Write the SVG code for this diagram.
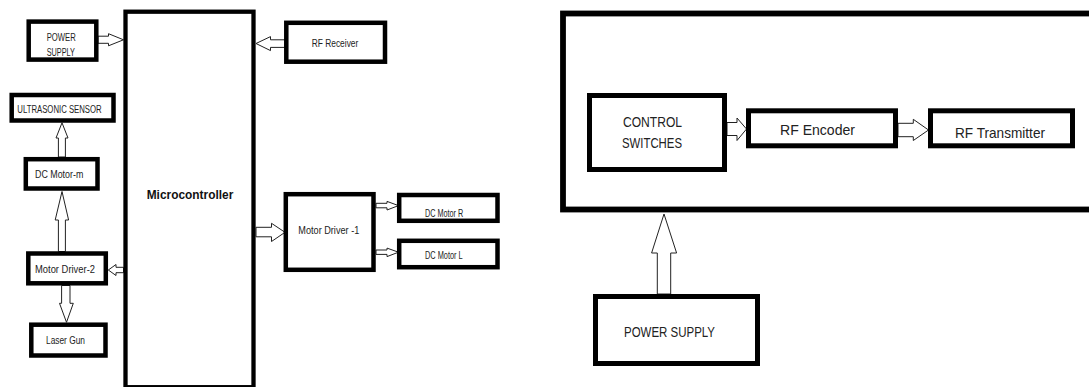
<svg xmlns="http://www.w3.org/2000/svg" width="1089" height="387" viewBox="0 0 1089 387">
  <style>
    .box { fill: #ffffff; stroke: #000000; }
    .frame { fill: none; stroke: #000000; }
    .s4 { stroke-width: 4.5; }
    .s5 { stroke-width: 5; }
    .arrow { fill: #ffffff; stroke: #222222; stroke-width: 1; stroke-linejoin: miter; }
    .t { font-family: "Liberation Sans", Arial, sans-serif; fill: #222222; }
    .sm { font-size: 10px; }
    .lg { font-size: 14.5px; }
    .bold { font-family: "Liberation Sans", Arial, sans-serif; font-weight: bold; font-size: 12px; fill: #111111; }
  </style>
  <rect width="1089" height="387" fill="#ffffff"/>

  <!-- transmitter side: outer enclosure (outline only) -->
  <g id="transmitter-unit">
    <rect class="frame" x="563" y="13.5" width="540" height="196" stroke-width="5.8"/>
  </g>

  <!-- connectors: hollow block arrows -->
  <g id="connectors">
    <!-- power supply -> microcontroller -->
    <polygon class="arrow" points="98,36.2 108.5,36.2 108.5,33.7 123.5,39.8 108.5,45.8 108.5,43.3 98,43.3"/>
    <!-- RF receiver -> microcontroller -->
    <polygon class="arrow" points="285,39.8 270.5,39.8 270.5,36.6 256,43.5 270.5,50.6 270.5,47.4 285,47.4"/>
    <!-- DC motor-m -> ultrasonic sensor -->
    <polygon class="arrow" points="58.4,157 58.4,138 56,138 62,122.8 68,138 65.4,138 65.4,157"/>
    <!-- motor driver-2 -> DC motor-m -->
    <polygon class="arrow" points="58.4,251.5 58.4,220 55.2,220 62,191.5 68.6,220 65.4,220 65.4,251.5"/>
    <!-- microcontroller -> motor driver-2 -->
    <polygon class="arrow" points="123.5,267.3 116,267.3 116,264.5 108.3,270 116,275.5 116,272.7 123.5,272.7"/>
    <!-- motor driver-2 -> laser gun -->
    <polygon class="arrow" points="61.6,285.5 61.6,303.3 59.5,303.3 66.5,322.3 73.3,303.3 70,303.3 70,285.5"/>
    <!-- microcontroller -> motor driver -1 -->
    <polygon class="arrow" points="256,227.3 271.5,227.3 271.5,223.3 285,232.3 271.5,241.5 271.5,236.8 256,236.8"/>
    <!-- motor driver -1 -> DC motor R -->
    <polygon class="arrow" points="376,203.3 387,203.3 387,201.4 398.5,205.6 387,210 387,207.8 376,207.8"/>
    <!-- motor driver -1 -> DC motor L -->
    <polygon class="arrow" points="376,250 387,250 387,248.1 398.5,252.2 387,256.6 387,254.4 376,254.4"/>
    <!-- control switches -> RF encoder -->
    <polygon class="arrow" points="727,122.5 737,122.5 737,118 746.5,129 737,140.5 737,135.5 727,135.5"/>
    <!-- RF encoder -> RF transmitter -->
    <polygon class="arrow" points="898,123.3 913.3,123.3 913.3,119.3 928.5,130 913.3,140.5 913.3,136.7 898,136.7"/>
    <!-- power supply -> transmitter unit -->
    <polygon class="arrow" points="657.3,294 657.3,253 651.6,253 664,214 676.6,253 670.7,253 670.7,294"/>
  </g>

  <!-- receiver side -->
  <g id="microcontroller">
    <rect class="box" x="125.5" y="11.7" width="128" height="375.5" stroke-width="4.3"/>
    <text class="bold" x="146.7" y="199.3" textLength="86.6" lengthAdjust="spacingAndGlyphs">Microcontroller</text>
  </g>

  <g id="power-supply-rx">
    <rect class="box s4" x="28.7" y="21.6" width="67.6" height="38"/>
    <text class="t sm" x="46.7" y="40.8" textLength="29" lengthAdjust="spacingAndGlyphs">POWER</text>
    <text class="t sm" x="46.7" y="55.6" textLength="28.3" lengthAdjust="spacingAndGlyphs">SUPPLY</text>
  </g>

  <g id="rf-receiver">
    <rect class="box s4" x="286.3" y="22.8" width="98.7" height="38.9"/>
    <text class="t sm" x="311.7" y="46.7" textLength="46.6" lengthAdjust="spacingAndGlyphs">RF Receiver</text>
  </g>

  <g id="ultrasonic-sensor">
    <rect class="box s4" x="11.7" y="95" width="101.8" height="25.5"/>
    <text class="t sm" x="17.3" y="112.7" textLength="84.4" lengthAdjust="spacingAndGlyphs">ULTRASONIC SENSOR</text>
  </g>

  <g id="dc-motor-m">
    <rect class="box s4" x="25.8" y="159.2" width="71.7" height="29.3"/>
    <text class="t sm" x="35" y="178.3" textLength="48.3" lengthAdjust="spacingAndGlyphs">DC Motor-m</text>
  </g>

  <g id="motor-driver-2">
    <rect class="box s4" x="28.3" y="253.5" width="77.5" height="29.8"/>
    <text class="t sm" x="35" y="273.3" textLength="60" lengthAdjust="spacingAndGlyphs">Motor Driver-2</text>
  </g>

  <g id="laser-gun">
    <rect class="box s4" x="31.3" y="324.7" width="74.2" height="30.8"/>
    <text class="t sm" x="46" y="344.3" textLength="39" lengthAdjust="spacingAndGlyphs">Laser Gun</text>
  </g>

  <g id="motor-driver-1">
    <rect class="box s4" x="285.8" y="194.2" width="87.7" height="75.6"/>
    <text class="t sm" x="298.3" y="234.3" textLength="61" lengthAdjust="spacingAndGlyphs">Motor Driver -1</text>
  </g>

  <g id="dc-motor-r">
    <rect class="box s4" x="399.2" y="195" width="98.3" height="25.8"/>
    <text class="t sm" x="425" y="216.7" textLength="38.3" lengthAdjust="spacingAndGlyphs">DC Motor R</text>
  </g>

  <g id="dc-motor-l">
    <rect class="box s4" x="399.2" y="240.8" width="98.3" height="26.4"/>
    <text class="t sm" x="425" y="259.3" textLength="37.7" lengthAdjust="spacingAndGlyphs">DC Motor L</text>
  </g>

  <g id="control-switches">
    <rect class="box s5" x="589.5" y="95.5" width="135" height="74"/>
    <text class="t lg" x="623" y="127" textLength="59" lengthAdjust="spacingAndGlyphs">CONTROL</text>
    <text class="t lg" x="622" y="147.5" textLength="60" lengthAdjust="spacingAndGlyphs">SWITCHES</text>
  </g>

  <g id="rf-encoder">
    <rect class="box s5" x="748.5" y="110.8" width="147" height="35"/>
    <text class="t lg" x="780" y="135" textLength="75" lengthAdjust="spacingAndGlyphs">RF Encoder</text>
  </g>

  <g id="rf-transmitter">
    <rect class="box s5" x="930.5" y="110.8" width="142" height="35"/>
    <text class="t lg" x="955" y="138" textLength="90" lengthAdjust="spacingAndGlyphs">RF Transmitter</text>
  </g>

  <g id="power-supply-tx">
    <rect class="box s5" x="595.5" y="296.5" width="162" height="67"/>
    <text class="t lg" x="624" y="337" textLength="91" lengthAdjust="spacingAndGlyphs">POWER SUPPLY</text>
  </g>
</svg>
